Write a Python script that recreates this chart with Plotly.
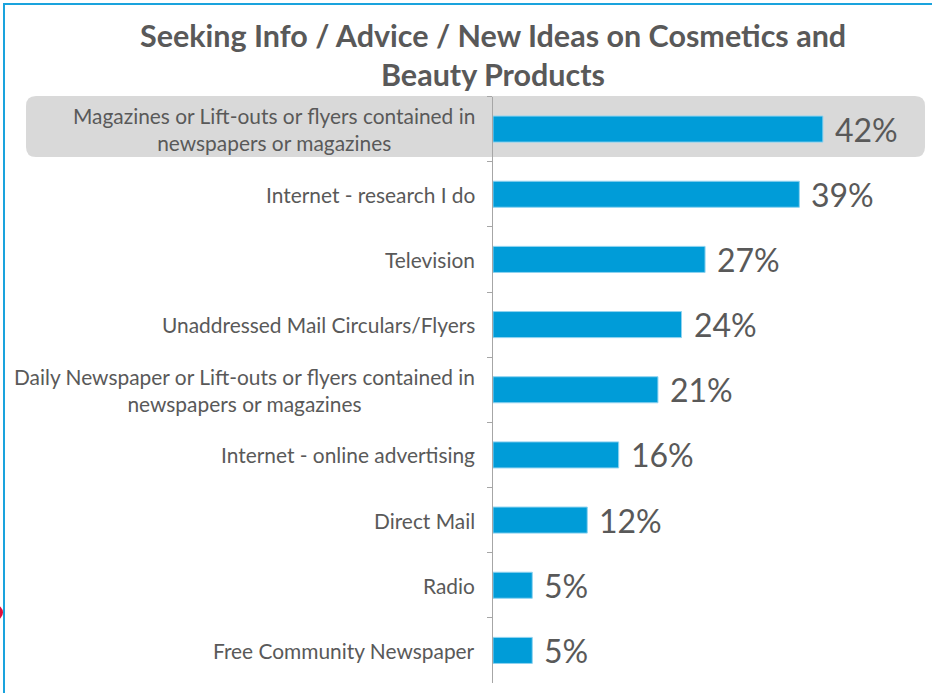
import plotly.graph_objects as go

W, H = 932, 693

categories = [
    "Magazines or Lift-outs or flyers contained in<br>newspapers or magazines",
    "Internet - research I do",
    "Television",
    "Unaddressed Mail Circulars/Flyers",
    "Daily Newspaper or Lift-outs or flyers contained in<br>newspapers or magazines",
    "Internet - online advertising",
    "Direct Mail",
    "Radio",
    "Free Community Newspaper",
]
values = [42, 39, 27, 24, 21, 16, 12, 5, 5]
value_labels = ["42%", "39%", "27%", "24%", "21%", "16%", "12%", "5%", "5%"]

title_lines = ["Seeking Info / Advice / New Ideas on Cosmetics and", "Beauty Products"]

BAR = "#009CD8"
TEXT = "#595959"
FONT = "Lato, 'Open Sans', sans-serif"


def px(x):
    return x / W


def py(y):
    return 1 - y / H


keys = [f"c{i}" for i in range(len(categories))]

fig = go.Figure(
    go.Bar(
        x=values,
        y=keys,
        orientation="h",
        marker=dict(color=BAR, line=dict(color="#8fd3f0", width=1)),
        hoverinfo="skip",
    )
)

annotations = []
# category labels, centered block right-aligned to the axis
for k, c in zip(keys, categories):
    annotations.append(dict(
        x=px(477), xref="paper", y=k, yref="y", text=c, showarrow=False,
        xanchor="right", yanchor="middle", align="center",
        font=dict(family=FONT, size=20.9, color=TEXT),
    ))
# value labels at bar ends
for k, v, t in zip(keys, values, value_labels):
    annotations.append(dict(
        x=v, xref="x", y=k, yref="y", text=t, showarrow=False,
        xanchor="left", yanchor="middle", xshift=10,
        font=dict(family=FONT, size=32, color=TEXT),
    ))
# title
for line, ypix in zip(title_lines, [35, 74]):
    annotations.append(dict(
        x=px(493), xref="paper", y=py(ypix), yref="paper", text=f"<b>{line}</b>",
        showarrow=False, xanchor="center", yanchor="middle",
        font=dict(family=FONT, size=30.5, color=TEXT),
    ))


def rounded_rect(x0, y0, x1, y1, r):
    # pixel rectangle with rounded corners, expressed in paper coordinates
    pts = [
        f"M {px(x0 + r)} {py(y0)}",
        f"L {px(x1 - r)} {py(y0)}",
        f"Q {px(x1)} {py(y0)} {px(x1)} {py(y0 + r)}",
        f"L {px(x1)} {py(y1 - r)}",
        f"Q {px(x1)} {py(y1)} {px(x1 - r)} {py(y1)}",
        f"L {px(x0 + r)} {py(y1)}",
        f"Q {px(x0)} {py(y1)} {px(x0)} {py(y1 - r)}",
        f"L {px(x0)} {py(y0 + r)}",
        f"Q {px(x0)} {py(y0)} {px(x0 + r)} {py(y0)}",
        "Z",
    ]
    return " ".join(pts)


shapes = [
    dict(type="path", xref="paper", yref="paper", path=rounded_rect(26, 96, 925, 157, 10),
         fillcolor="#D9D9D9", line=dict(width=0), layer="below"),
    dict(type="line", xref="paper", yref="paper", x0=px(3), x1=1, y0=py(4), y1=py(4),
         line=dict(color="#1AA3DD", width=2)),
    dict(type="line", xref="paper", yref="paper", x0=px(4), x1=px(4), y0=py(4), y1=0,
         line=dict(color="#1AA3DD", width=2)),
    dict(type="circle", xref="paper", yref="paper", x0=px(-12), x1=px(3), y0=py(605), y1=py(620),
         fillcolor="#E0103C", line=dict(width=0)),
]

fig.update_layout(
    width=W, height=H,
    margin=dict(l=0, r=0, t=0, b=0),
    paper_bgcolor="white", plot_bgcolor="rgba(0,0,0,0)",
    showlegend=False,
    bargap=0.6,
    xaxis=dict(domain=[px(493), px(925)], range=[0, 55], visible=False, fixedrange=True),
    yaxis=dict(
        domain=[py(683), py(96.5)],
        type="category", categoryorder="array", categoryarray=keys,
        autorange="reversed",
        showticklabels=False,
        showline=True, linecolor="#A6A6A6", linewidth=1,
        ticks="outside", tickson="boundaries", ticklen=5, tickcolor="#A6A6A6",
        showgrid=False, zeroline=False, fixedrange=True,
    ),
    annotations=annotations,
    shapes=shapes,
)

fig.write_html("out.html")
